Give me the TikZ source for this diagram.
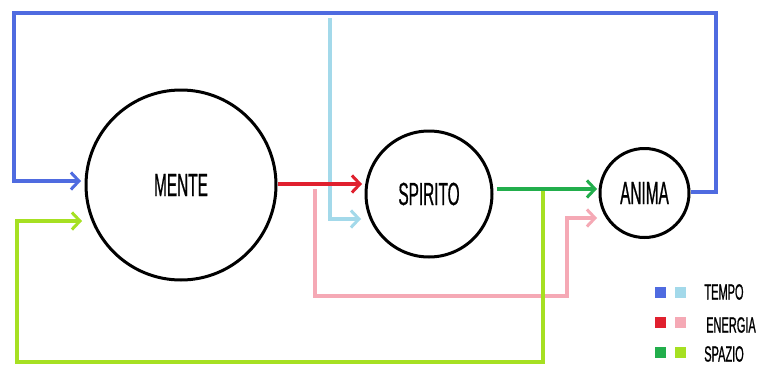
\documentclass[tikz,border=0pt]{standalone}
\usepackage{fontspec}
\usetikzlibrary{arrows.meta}
\newfontfamily\cond[FakeStretch=0.48,FakeBold=0.6]{Liberation Sans}
\newfontfamily\condleg[FakeStretch=0.5,FakeBold=0.8]{Liberation Sans}
\definecolor{cblue}{HTML}{4F6BE0}
\definecolor{clblue}{HTML}{A3D9EA}
\definecolor{cred}{HTML}{E0202E}
\definecolor{cpink}{HTML}{F5A9B5}
\definecolor{cgreen}{HTML}{22AE4C}
\definecolor{clgreen}{HTML}{A6E022}
\tikzset{
  circ/.style={circle, draw=black, line width=3pt, inner sep=0pt, font=\cond\fontsize{32}{32}\selectfont},
  conn/.style={line width=3.5pt, line join=miter, -{Straight Barb[length=8pt,width=17pt,line width=3pt]}},
  sq/.style={minimum size=11pt, inner sep=0pt},
  leg/.style={font=\condleg\fontsize{22}{22}\selectfont, inner sep=0pt}
}
\begin{document}
\begin{tikzpicture}[x=1pt,y=-1pt]
\useasboundingbox (0,0) rectangle (758,367);
\fill[white] (0,0) rectangle (758,367);
\node[circ, minimum size=190pt] (mente) at (181,185) {MENTE};
\node[circ, minimum size=126pt] (spirito) at (429,194) {SPIRITO};
\node[circ, minimum size=89pt] (anima) at (644.5,193) {ANIMA};
% coordinates
\coordinate (b1) at (716,192);
\coordinate (b2) at (716,13);
\coordinate (b3) at (14,13);
\coordinate (b4) at (14,181);
\coordinate (bt) at (81,181);
\coordinate (lb0) at (330,18);
\coordinate (lb1) at (330,219);
\coordinate (lbt) at (361,219);
\coordinate (r0) at (278,184);
\coordinate (rt) at (362,184);
\coordinate (p0) at (315,189);
\coordinate (p1) at (315,296);
\coordinate (p2) at (567,296);
\coordinate (p3) at (567,218);
\coordinate (pt) at (597,218);
\coordinate (g0) at (497,189);
\coordinate (gt) at (597,189);
\coordinate (lg0) at (543,189);
\coordinate (lg1) at (543,362);
\coordinate (lg2) at (17,362);
\coordinate (lg3) at (17,221);
\coordinate (lgt) at (82,221);
% connectors
\draw[conn, cblue] (b1 -| anima.east) -- (b1) -- (b2) -- (b3) -- (b4) -- (bt);
\draw[conn, clblue] (lb0) -- (lb1) -- (lbt);
\draw[conn, cpink] (p0) -- (p1) -- (p2) -- (p3) -- (pt);
\draw[conn, cred] (r0) -- (rt);
\draw[conn, clgreen] (lg0) -- (lg1) -- (lg2) -- (lg3) -- (lgt);
\draw[conn, cgreen] (g0) -- (gt);
% legend
\node[sq, fill=cblue] (s1) at (660,292) {};
\node[sq, fill=clblue] (s2) at (680,292) {};
\node[leg] (t1) at (724,292) {TEMPO};
\node[sq, fill=cred] (s3) at (660,322) {};
\node[sq, fill=cpink] (s4) at (680,322) {};
\node[leg] (t2) at (731,325) {ENERGIA};
\node[sq, fill=cgreen] (s5) at (660,352) {};
\node[sq, fill=clgreen] (s6) at (680,352) {};
\node[leg] (t3) at (724,354) {SPAZIO};
\end{tikzpicture}
\end{document}
